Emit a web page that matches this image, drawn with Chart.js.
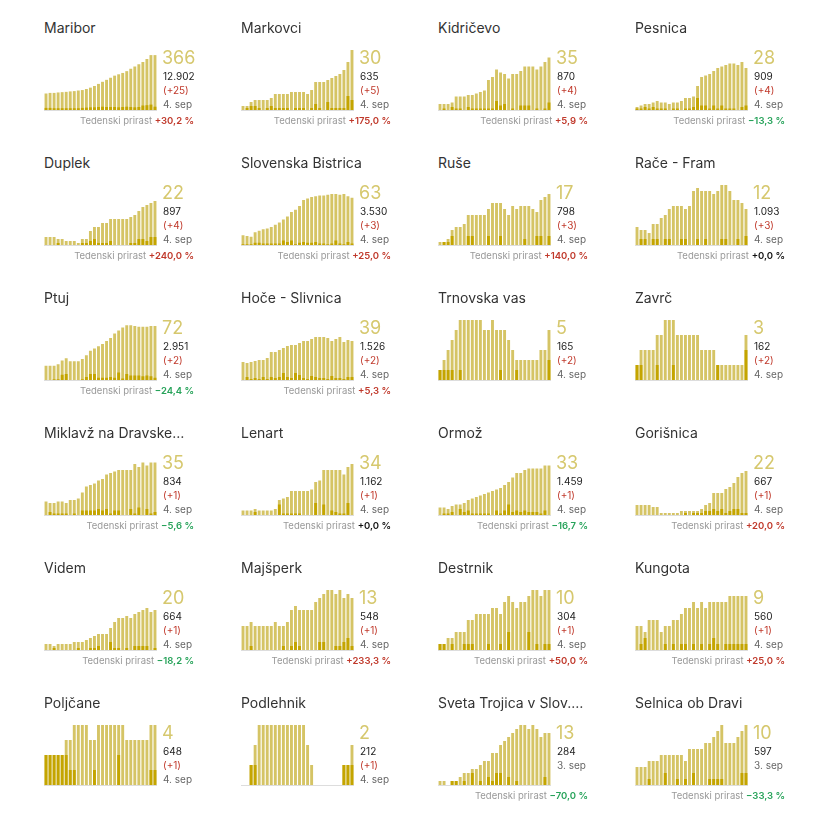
<!DOCTYPE html>
<html>
<head>
<meta charset="utf-8">
<script src="https://cdn.jsdelivr.net/npm/chart.js@4/dist/chart.umd.min.js"></script>
<style>
  body { margin: 0; background: #fff; font-family: "Inter", "Noto Sans", sans-serif; }
  #wrap { position: relative; width: 837px; height: 818px; }
  .panel { position: absolute; width: 150px; height: 120px; }
  .title { position: absolute; left: 0; top: 0; font-size: 14px; color: #333; white-space: nowrap; }
  .panel canvas { position: absolute; left: 0; top: 31px; }
  .base { position: absolute; left: 0; top: 91px; width: 113px; height: 1px; background: #ddd; }
  .big { position: absolute; left: 118px; top: 28px; font-size: 18px; color: #d6c86e; }
  .tot { position: absolute; left: 119px; top: 51px; font-size: 10px; color: #222; }
  .dlt { position: absolute; left: 119px; top: 65px; font-size: 10px; color: #c0392b; }
  .dt { position: absolute; left: 119px; top: 79px; font-size: 10px; color: #666; }
  .wk { position: absolute; right: 0; top: 96px; font-size: 9.5px; color: #999; white-space: nowrap; }
  .wk b { font-weight: 600; }
</style>
</head>
<body>
<div id="wrap"></div>
<script>
// Data
var names = ['Maribor', 'Markovci', 'Kidričevo', 'Pesnica', 'Duplek', 'Slovenska Bistrica', 'Ruše', 'Rače - Fram',
  'Ptuj', 'Hoče - Slivnica', 'Trnovska vas', 'Zavrč', 'Miklavž na Dravske…', 'Lenart', 'Ormož', 'Gorišnica',
  'Videm', 'Majšperk', 'Destrnik', 'Kungota', 'Poljčane', 'Podlehnik', 'Sveta Trojica v Slov.…', 'Selnica ob Dravi'];
var active = [366, 30, 35, 28, 22, 63, 17, 12, 72, 39, 5, 3, 35, 34, 33, 22, 20, 13, 10, 9, 4, 2, 13, 10];
var totals = ['12.902', '635', '870', '909', '897', '3.530', '798', '1.093', '2.951', '1.526', '165', '162',
  '834', '1.162', '1.459', '667', '664', '548', '304', '560', '648', '212', '284', '597'];
var deltas = ['+25', '+5', '+4', '+4', '+4', '+3', '+3', '+3', '+2', '+2', '+2', '+2',
  '+1', '+1', '+1', '+1', '+1', '+1', '+1', '+1', '+1', '+1', '', ''];
var dates = ['4. sep', '4. sep', '4. sep', '4. sep', '4. sep', '4. sep', '4. sep', '4. sep', '4. sep', '4. sep', '4. sep', '4. sep',
  '4. sep', '4. sep', '4. sep', '4. sep', '4. sep', '4. sep', '4. sep', '4. sep', '4. sep', '4. sep', '3. sep', '3. sep'];
var weekly = [30.2, 175.0, 5.9, -13.3, 240.0, 25.0, 140.0, 0.0, -24.4, 5.3, null, null,
  -5.6, 0.0, -16.7, 20.0, -18.2, 233.3, 50.0, 25.0, null, null, -70.0, -33.3];

var light = [
  [110,114,114,117,119,121,124,126,130,133,140,149,160,174,188,201,215,229,238,247,259,275,290,305,320,340,366,366],
  [2,2,4,5,5,5,5,6,8,8,8,8,9,9,9,9,8,10,14,14,14,15,16,17,18,20,24,30],
  [4,4,4,5,9,9,9,10,10,11,12,13,20,22,27,25,24,21,24,24,26,29,29,29,27,29,32,35],
  [2,3,4,4,5,6,5,5,4,5,5,6,8,8,9,16,22,23,24,26,28,29,30,31,31,30,32,28],
  [4,4,4,3,3,2,2,2,1,3,3,7,9,9,11,11,13,13,13,13,13,14,15,17,19,20,21,22],
  [13,12,11,17,19,21,22,24,27,30,34,38,44,47,52,60,62,64,65,66,66,67,68,68,67,68,65,63],
  [1,1,2,5,6,6,7,10,10,10,10,10,12,14,14,14,12,10,13,12,13,13,13,12,11,15,16,17],
  [6,5,5,4,7,7,9,10,12,13,13,13,12,13,18,19,18,18,18,17,18,20,20,18,15,15,14,12],
  [19,19,19,21,26,29,25,25,25,28,33,39,42,45,48,52,56,62,66,70,73,73,72,71,71,71,72,72],
  [18,17,18,19,20,20,22,28,28,30,32,34,35,35,37,39,39,41,43,43,43,42,39,41,43,38,40,39],
  [1,2,3,4,5,6,6,6,6,6,6,5,5,6,5,5,5,4,3,2,2,2,2,2,2,3,3,5],
  [1,2,2,2,2,3,3,4,4,4,3,3,3,3,3,3,2,2,2,2,1,1,1,1,1,1,1,3],
  [9,8,8,9,9,8,10,10,11,15,19,20,21,23,24,27,28,29,30,30,30,30,34,32,35,33,35,35],
  [3,3,3,4,3,3,3,3,4,10,11,12,16,16,16,16,16,17,22,23,30,30,30,30,30,27,32,34],
  [5,5,4,6,7,7,8,10,11,12,13,14,15,16,17,18,20,22,25,28,28,30,31,31,31,31,33,33],
  [5,5,5,5,4,4,1,1,1,1,1,2,2,2,2,2,3,5,6,11,11,11,13,14,16,19,21,22],
  [3,3,2,3,3,3,3,4,4,4,5,6,7,8,8,8,11,14,16,16,17,16,18,19,20,21,19,20],
  [6,6,7,6,6,6,6,6,7,6,6,7,10,11,10,10,10,10,12,13,14,15,15,14,15,13,14,13],
  [1,1,2,2,3,3,3,5,5,6,6,6,6,7,7,6,8,9,8,7,8,8,9,10,10,9,10,10],
  [4,4,3,5,5,5,3,4,4,5,5,6,7,7,8,7,8,7,8,8,8,8,8,9,9,9,9,9],
  [2,2,2,2,2,3,3,4,4,4,4,3,3,4,4,4,4,4,4,4,3,3,3,3,3,3,4,4],
  [0,0,1,2,3,3,3,3,3,3,3,3,3,3,3,3,2,1,0,0,0,0,0,0,0,1,1,2],
  [1,1,0,1,1,2,3,3,4,4,5,6,6,8,8,10,11,12,13,14,15,15,14,15,14,12,13,13],
  [3,3,3,4,4,4,5,5,5,5,5,5,4,6,6,6,6,7,7,8,9,10,7,7,7,8,9,10]
];
var daily = [
  [14,14,12,12,12,12,12,12,12,14,16,18,18,20,22,20,20,20,18,20,22,20,18,20,30,32,36,22],
  [0,1,2,2,1,0,1,2,1,1,1,1,0,1,1,1,0,1,3,1,0,4,1,1,1,1,7,5],
  [0,1,0,2,1,1,0,2,1,1,1,1,1,1,6,3,4,0,1,0,3,3,3,0,1,0,1,5],
  [1,1,2,1,2,1,1,1,0,1,1,0,1,1,2,8,3,3,1,3,1,3,1,1,1,0,2,3],
  [0,0,0,1,0,0,0,0,0,1,1,2,3,1,1,1,2,0,0,0,0,1,1,3,3,2,4,4],
  [1,1,1,3,3,2,2,2,2,2,6,4,6,1,3,4,3,3,4,2,2,1,2,6,2,1,4,2],
  [0,1,1,3,0,0,0,3,3,0,0,0,3,0,0,3,0,0,0,0,0,2,0,0,3,3,0,3],
  [0,2,2,0,2,2,0,2,2,0,0,2,2,0,0,2,0,2,0,0,0,2,2,0,0,2,0,3],
  [0,0,1,1,7,8,0,0,0,1,4,8,8,3,3,3,4,3,10,2,8,6,6,6,5,6,5,3],
  [0,3,1,2,1,3,1,3,2,3,7,3,2,7,5,2,1,4,3,2,2,1,4,2,2,1,3,3],
  [1,1,1,1,0,1,0,0,0,0,0,0,0,0,0,1,0,0,0,1,0,0,0,0,0,0,0,2],
  [1,1,0,0,0,1,0,0,0,1,0,0,0,0,0,0,0,0,0,0,1,0,0,0,0,0,0,2],
  [0,2,1,1,1,1,0,1,0,3,3,3,3,4,3,4,1,3,3,0,0,4,1,5,0,4,1,2],
  [0,0,0,2,0,0,0,0,0,7,1,1,1,1,1,0,0,0,8,0,7,0,3,2,1,1,8,0],
  [0,1,1,2,0,4,2,3,1,1,1,1,1,0,3,1,3,7,2,3,2,3,2,2,2,1,3,0],
  [0,0,0,0,0,0,0,0,0,0,0,0,1,0,1,1,1,2,2,3,2,3,1,2,3,3,1,1],
  [0,0,1,0,0,0,0,0,1,0,0,1,1,2,0,0,4,1,1,0,1,0,2,2,2,2,0,1],
  [0,0,1,0,0,0,0,0,0,0,1,0,1,2,1,0,0,0,0,2,2,0,0,1,1,2,3,1],
  [1,1,0,1,0,0,1,1,1,0,0,0,1,0,0,1,0,3,0,0,0,0,3,0,1,0,1,1],
  [0,1,2,0,0,0,0,1,0,1,0,1,1,0,1,0,1,0,1,2,1,0,1,1,1,1,1,1],
  [2,2,2,2,2,2,1,1,0,0,0,0,1,0,0,0,0,0,2,0,0,0,0,0,0,0,1,1],
  [0,0,1,1,0,0,0,0,0,0,0,0,0,0,0,0,0,0,0,0,0,0,0,0,0,1,1,1],
  [0,0,0,1,1,0,1,0,3,0,1,0,2,1,3,3,0,2,0,1,0,0,0,0,0,0,2,0],
  [0,0,0,1,0,0,0,2,0,0,1,0,1,0,2,0,0,0,1,1,1,1,0,0,0,0,2,2]
];
var days = [];
for (var d = 0; d < 28; d++) days.push('d' + d);

var colX = [44, 241, 438, 635];
var wrap = document.getElementById('wrap');

function fmt(v) {
  return (v > 0 ? '+' : v < 0 ? '−' : '+') + Math.abs(v).toFixed(1).replace('.', ',') + ' %';
}

for (var i = 0; i < names.length; i++) {
  var p = document.createElement('div');
  p.className = 'panel';
  p.style.left = colX[i % 4] + 'px';
  p.style.top = (19 + Math.floor(i / 4) * 135) + 'px';
  var html = '<div class="title">' + names[i] + '</div>' +
    '<canvas width="113" height="60"></canvas><div class="base"></div>' +
    '<div class="big">' + active[i] + '</div>' +
    '<div class="tot">' + totals[i] + '</div>';
  if (deltas[i]) {
    html += '<div class="dlt">(' + deltas[i] + ')</div><div class="dt">' + dates[i] + '</div>';
  } else {
    html += '<div class="dlt" style="color:#666">' + dates[i] + '</div>';
  }
  if (weekly[i] !== null) {
    var c = weekly[i] > 0 ? '#c0392b' : weekly[i] < 0 ? '#27a35a' : '#111';
    html += '<div class="wk">Tedenski prirast <b style="color:' + c + '">' + fmt(weekly[i]) + '</b></div>';
  }
  p.innerHTML = html;
  wrap.appendChild(p);

  new Chart(p.querySelector('canvas').getContext('2d'), {
    type: 'bar',
    data: {
      labels: days,
      datasets: [
        { data: daily[i], backgroundColor: '#c4a500', grouped: false, order: 0, barPercentage: 0.72, categoryPercentage: 1 },
        { data: light[i], backgroundColor: '#d5c465', grouped: false, order: 1, barPercentage: 0.72, categoryPercentage: 1 }
      ]
    },
    options: {
      responsive: false,
      animation: false,
      devicePixelRatio: 1,
      plugins: { legend: { display: false }, tooltip: { enabled: false } },
      layout: { padding: 0 },
      scales: {
        x: { display: false },
        y: { display: false, beginAtZero: true }
      }
    }
  });
}
</script>
</body>
</html>
